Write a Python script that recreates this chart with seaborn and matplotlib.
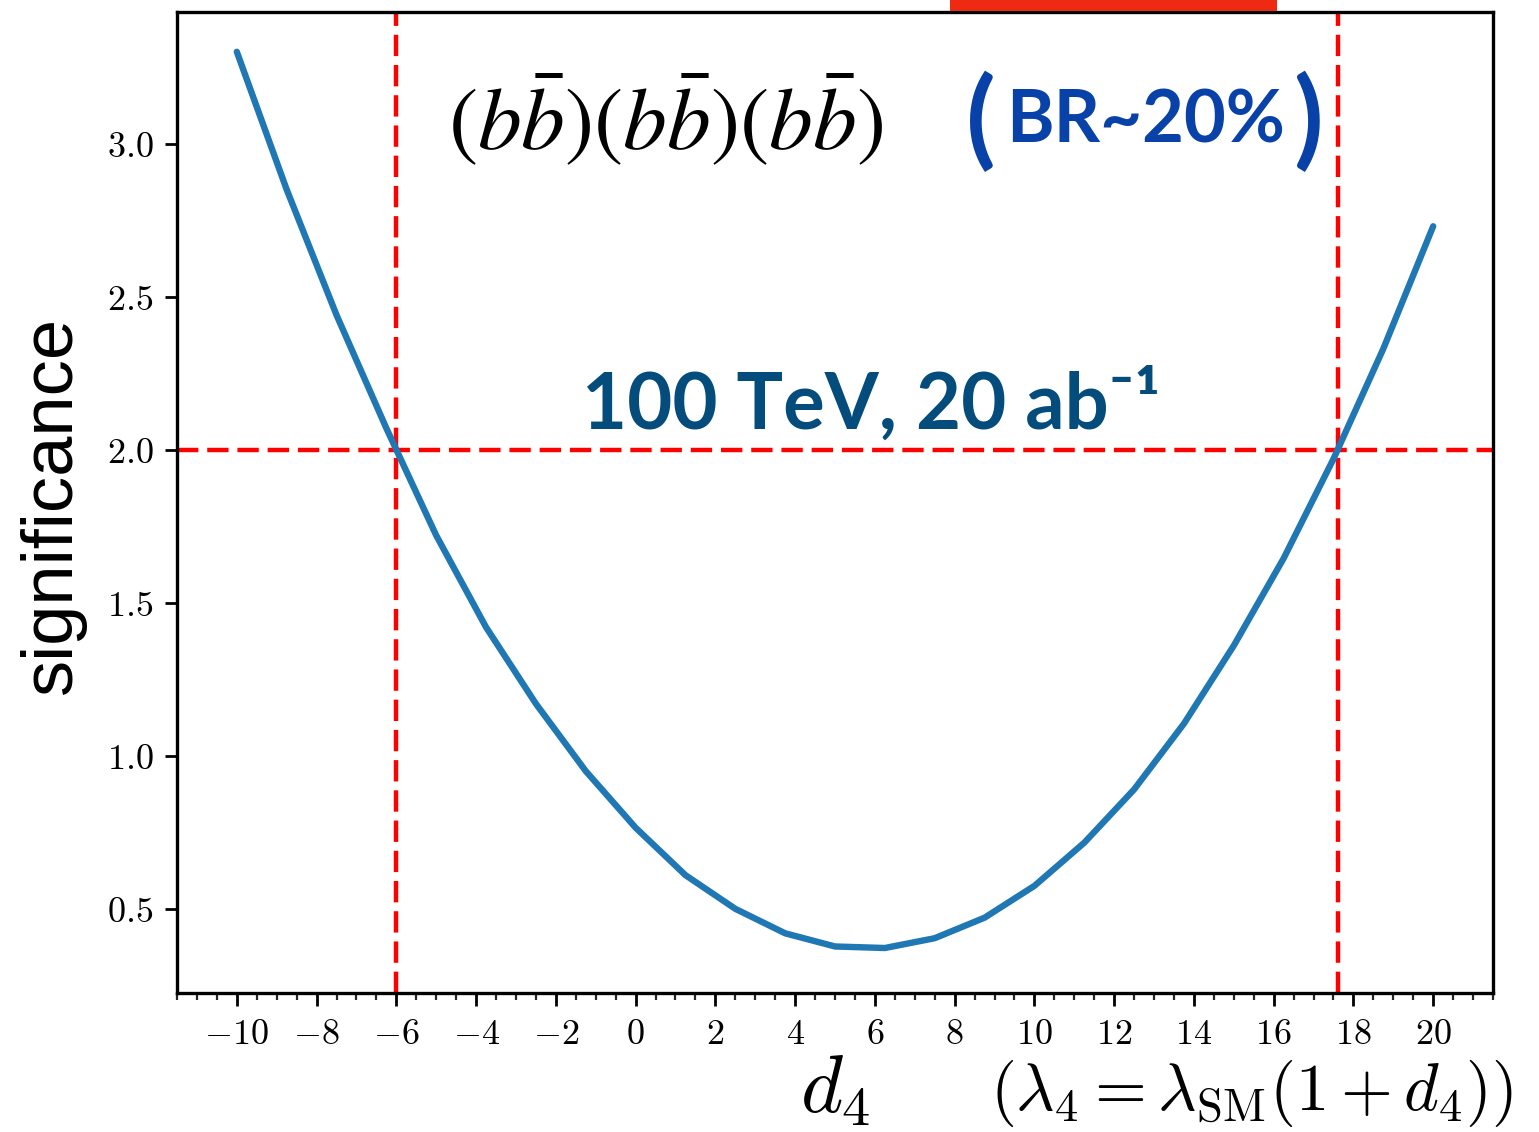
import matplotlib
matplotlib.use("Agg")
import matplotlib.pyplot as plt
from matplotlib.patches import Rectangle
from matplotlib.ticker import FixedLocator, FixedFormatter, MultipleLocator
import numpy as np
import pandas as pd
import seaborn as sns

# ---- data -------------------------------------------------------------
d4 = [-10.0, -8.75, -7.5, -6.25, -5.0, -3.75, -2.5, -1.25, 0.0, 1.25,
      2.5, 3.75, 5.0, 6.25, 7.5, 8.75, 10.0, 11.25, 12.5, 13.75,
      15.0, 16.25, 17.5, 18.75, 20.0]
significance = [3.30, 2.85, 2.44, 2.07, 1.72, 1.42, 1.17, 0.95, 0.765, 0.61,
                0.50, 0.42, 0.377, 0.372, 0.404, 0.471, 0.575, 0.716, 0.89, 1.105,
                1.36, 1.645, 1.97, 2.33, 2.73]

xticks = [-10, -8, -6, -4, -2, 0, 2, 4, 6, 8, 10, 12, 14, 16, 18, 20]
xtick_labels = ["$-10$", "$-8$", "$-6$", "$-4$", "$-2$", "$0$", "$2$", "$4$",
                "$6$", "$8$", "$10$", "$12$", "$14$", "$16$", "$18$", "$20$"]
yticks = [0.5, 1.0, 1.5, 2.0, 2.5, 3.0]
ytick_labels = ["$0.5$", "$1.0$", "$1.5$", "$2.0$", "$2.5$", "$3.0$"]

threshold = 2.0
d4_limits = [-6.0, 17.62]

df = pd.DataFrame({"d4": d4, "significance": significance})

# ---- style ------------------------------------------------------------
sns.set_style("ticks")
plt.rcParams["mathtext.fontset"] = "cm"
plt.rcParams["font.family"] = ["DejaVu Sans"]

fig = plt.figure(figsize=(15.39, 11.32), dpi=100)
ax = fig.add_axes([177 / 1539, 1 - 993 / 1132, (1493 - 177) / 1539, (993 - 12) / 1132])

sns.lineplot(data=df, x="d4", y="significance", ax=ax, color="#1f77b4",
             linewidth=4.6, zorder=3)

# 2-sigma reference lines
ax.axhline(threshold, color="#ff0000", linewidth=3.2, dashes=(4.8, 2.0), zorder=2)
for xv in d4_limits:
    ax.axvline(xv, color="#ff0000", linewidth=3.2, dashes=(4.8, 2.0), zorder=2)

ax.set_xlim(-11.5, 21.5)
ax.set_ylim(0.225, 3.43)

ax.xaxis.set_major_locator(FixedLocator(xticks))
ax.xaxis.set_major_formatter(FixedFormatter(xtick_labels))
ax.xaxis.set_minor_locator(MultipleLocator(0.5))
ax.yaxis.set_major_locator(FixedLocator(yticks))
ax.yaxis.set_major_formatter(FixedFormatter(ytick_labels))

ax.tick_params(axis="both", which="major", direction="out", length=9,
               width=2.0, labelsize=26, colors="black", pad=8)
ax.tick_params(axis="x", which="minor", direction="out", length=5, width=1.6)
for s in ax.spines.values():
    s.set_linewidth(2.4)
    s.set_color("black")

# axis labels
ax.set_ylabel("significance", family=["Liberation Sans", "DejaVu Sans"],
              fontsize=52, color="black")
ax.yaxis.set_label_coords(-0.069, 0.497)
ax.set_xlabel("$d_4$", fontsize=58, color="black")
ax.xaxis.set_label_coords(0.5, -0.059)
fig.text(990 / 1539, (1132 - 1110) / 1132,
         r"$(\lambda_4 = \lambda_{\rm SM}(1 + d_4))$",
         fontsize=48, ha="left", va="baseline", color="black")

# annotations
ax.text(0.75, 3.078, r"$(b\bar{b})(b\bar{b})(b\bar{b})$", fontsize=63,
        math_fontfamily="stix", ha="center", va="center", color="black")
br_kw = dict(fontweight="bold", family=["Lato", "DejaVu Sans"],
             color="#0841a8", va="center")
ax.text(12.8, 3.07, "BR~20%", fontsize=52, ha="center", **br_kw)
ax.text(8.65, 3.07, "(", fontsize=78, ha="center", **br_kw)
ax.text(16.85, 3.07, ")", fontsize=78, ha="center", **br_kw)
ax.text(5.9, 2.07, "100 TeV, 20 ab\u207b\u00b9", fontsize=56, fontweight="bold",
        family=["Lato", "DejaVu Sans"], ha="center", va="baseline", color="#044c7c")

# highlighter stroke at the top edge
fig.patches.append(Rectangle((950 / 1539, 1 - 11 / 1132), (1277 - 950) / 1539, 11 / 1132,
                             transform=fig.transFigure, facecolor="#ee2a12",
                             edgecolor="none", zorder=5))

fig.savefig("out.png", dpi=100)
